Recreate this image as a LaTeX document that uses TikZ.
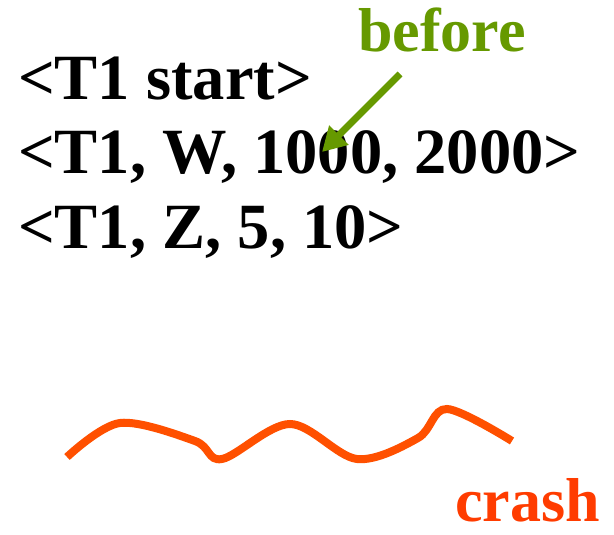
\documentclass[tikz,border=0pt]{standalone}
\usepackage{fontspec}
\setmainfont{Liberation Serif}
\usetikzlibrary{arrows.meta}
\definecolor{loggreen}{HTML}{669900}
\definecolor{crashline}{HTML}{FF5000}
\definecolor{crashtext}{HTML}{FF3C00}

\begin{document}
\begin{tikzpicture}[x=1pt, y=-1pt,
  rec/.style={anchor=base west, inner sep=0, font=\fontsize{64.5}{74}\selectfont\bfseries},
  tag/.style={anchor=base west, inner sep=0, font=\fontsize{62}{74}\selectfont\bfseries}]
\useasboundingbox (0,0) rectangle (614,535);
% log records
\node[rec] (startrec) at (18,100) {<T1 start>};
\node[rec] (writerec) at (18,174) {<T1, W, 1000, 2000>};
\node[rec] (zrec) at (18,248) {<T1, Z, 5, 10>};
% marker pointing into the log
\node[tag, text=loggreen] (before) at (358,52) {before};
\coordinate (beforetip) at (322,152);
\draw[loggreen, line width=7pt, -{Triangle[length=24pt,width=26pt]}]
  ([xshift=42pt,yshift=-22pt]before.base west) -- (beforetip);
% the crash
\draw[crashline, line width=8pt, line cap=butt]
  plot[smooth, tension=0.55] coordinates {(67,457) (120,423) (195,441) (222,459)
  (290,424) (357,459) (418,438) (447,409) (512,441)};
\node[tag, text=crashtext] (crash) at (455,521) {crash};
\end{tikzpicture}
\end{document}
